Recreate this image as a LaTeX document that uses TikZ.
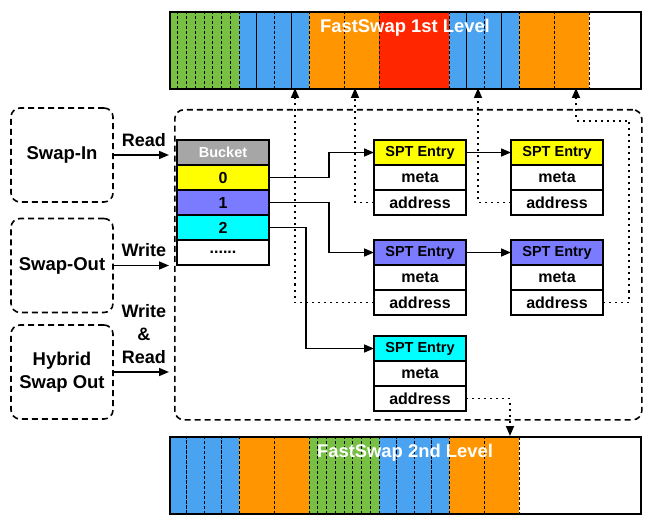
\documentclass[tikz,border=0pt]{standalone}
\usepackage{fontspec}
\setmainfont{Liberation Sans}
\usetikzlibrary{positioning,arrows.meta}

\definecolor{pagegreen}{HTML}{77C043}
\definecolor{pageblue}{HTML}{4AA3F0}
\definecolor{pageorange}{HTML}{FF9500}
\definecolor{pagered}{HTML}{FF2600}
\definecolor{rowyellow}{HTML}{FFFF00}
\definecolor{rowblue}{HTML}{7B7BFF}
\definecolor{rowcyan}{HTML}{00FFFF}
\definecolor{rowgray}{HTML}{A6A6A6}

\begin{document}
\begin{tikzpicture}[x=1pt, y=-1pt, line width=1.6pt, font=\bfseries,
    cell/.style = {draw, fill=white, outer sep=0pt, inner sep=0pt, minimum width=92pt, minimum height=25pt, font=\bfseries\fontsize{16}{16}\selectfont},
    head/.style = {cell, font=\bfseries\fontsize{14.5}{14}\selectfont},
    client/.style = {draw, dash pattern=on 6pt off 4pt, rounded corners=9pt, minimum width=102pt, minimum height=94pt, align=center, font=\bfseries\fontsize{18.5}{23}\selectfont},
    slot/.style = {draw, line width=0.9pt, dash pattern=on 3pt off 2pt},
    level/.style = {draw, anchor=north west, minimum width=471pt, minimum height=77pt, inner sep=0pt},
    levelname/.style = {text=white, font=\bfseries\fontsize{18.4}{18}\selectfont},
    op/.style = {align=center, inner sep=2pt, font=\bfseries\fontsize{18}{23}\selectfont},
    link/.style = {-{Triangle[length=10pt, width=8pt]}},
    ptr/.style = {dash pattern=on 2pt off 4pt, -{Triangle[length=10pt, width=8pt]}}]
\useasboundingbox (0,0) rectangle (653,521);

% 1st level pages
\foreach \xa/\col/\n in {169/pagegreen/8, 239/pageblue/4, 309/pageorange/2, 379/pagered/1, 449/pageblue/4, 519/pageorange/2} {
  \pgfmathsetmacro\w{70/\n}
  \foreach \i in {1,...,\n}
    \draw[slot, fill=\col] ({\xa+(\i-1)*\w}, 11) rectangle ++(\w, 77);
}
\node[level] (level1) at (169,11) {};
\node[levelname] (name1) at (405,28) {FastSwap 1st Level};

% 2nd level pages
\foreach \xa/\col/\n in {169/pageblue/4, 239/pageorange/2, 309/pagegreen/8, 379/pageblue/4, 449/pageorange/2} {
  \pgfmathsetmacro\w{70/\n}
  \foreach \i in {1,...,\n}
    \draw[slot, fill=\col] ({\xa+(\i-1)*\w}, 436) rectangle ++(\w, 77);
}
\node[level] (level2) at (169,436) {};
\node[levelname] (name2) at (405,453) {FastSwap 2nd Level};

% swap page table
\node[draw, dash pattern=on 6pt off 4pt, rounded corners=9pt, anchor=north west, minimum width=467pt, minimum height=310pt] (spt) at (174,109) {};

\node[client] (swapin) at (62,155) {Swap-In};
\node[client] (swapout) at (62,265.5) {Swap-Out};
\node[client] (hybrid) at (62,372) {Hybrid\\Swap Out};

\draw[link, shorten >=5pt] (swapin.east) -- node[op, above=6pt] {Read} (swapin.east -| spt.west);
\draw[link, shorten >=5pt] (swapout.east) -- node[op, above=6pt] {Write} (swapout.east -| spt.west);
\draw[link, shorten >=5pt] (hybrid.east) -- node[op, above=6pt] {Write\\\&\\Read} (hybrid.east -| spt.west);

\node[head, fill=rowgray, text=white] (bucket) at (223,152.5) {Bucket};
\node[cell, fill=rowyellow, below=0pt of bucket] (b0) {0};
\node[cell, fill=rowblue, below=0pt of b0] (b1) {1};
\node[cell, fill=rowcyan, below=0pt of b1] (b2) {2};
\node[cell, below=0pt of b2] (b3) {......};

\foreach \e/\x/\y/\col in {e11/420/152.5/rowyellow, e12/557/152.5/rowyellow, e21/420/252.5/rowblue, e22/557/252.5/rowblue, e31/420/348.5/rowcyan} {
  \node[head, fill=\col] (\e) at (\x,\y) {SPT Entry};
  \node[cell, below=0pt of \e] (\e m) {meta};
  \node[cell, below=0pt of \e m] (\e a) {address};
}

\draw[link] (b0.east) -- ++(60,0) |- (e11.west);
\draw[link] (b1.east) -- ++(60,0) |- (e21.west);
\draw[link] (b2.east) -- ++(37,0) |- (e31.west);
\draw[link] (e11.east) -- (e12.west);
\draw[link] (e21.east) -- (e22.west);

% pointers into the levels
\coordinate (page1) at (295,88);
\coordinate (page2) at (355,88);
\coordinate (page3) at (478,88);
\coordinate (page4) at (576,88);
\coordinate (turn) at (576,121);
\coordinate (page5) at (510,436);

\draw[ptr] (e21a.west) -| (page1);
\draw[ptr] (e11a.west) -| (page2);
\draw[ptr] (e12a.west) -| (page3);
\draw[ptr] (e22a.east) -- ++(26,0) |- (turn) -- (page4);
\draw[ptr] (e31a.east) -| (page5);
\end{tikzpicture}
\end{document}
